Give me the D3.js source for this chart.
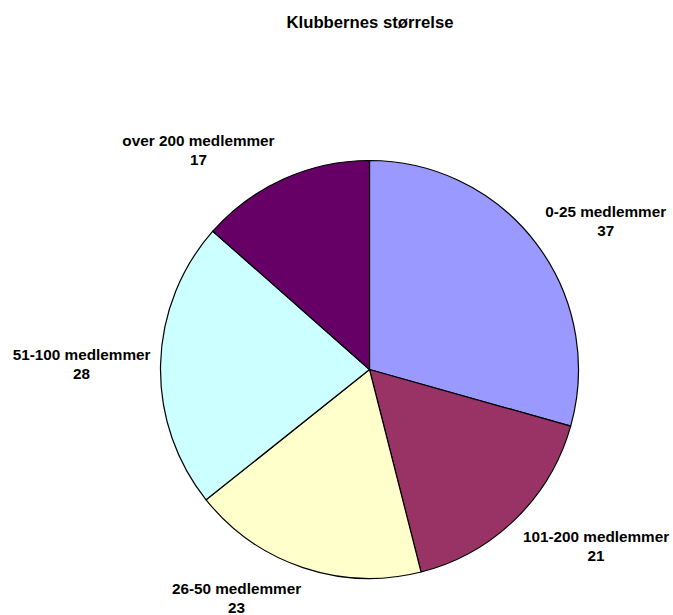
<!DOCTYPE html>
<html>
<head>
<meta charset="utf-8">
<script src="https://cdn.jsdelivr.net/npm/d3@7"></script>
<style>
  html, body { margin: 0; padding: 0; background: #ffffff; }
  svg { display: block; }
  text { font-family: "Liberation Sans", Arial, sans-serif; font-weight: bold; fill: #000; }
</style>
</head>
<body>
<svg id="chart" width="673" height="615"></svg>
<script>
// ---- data ----
const title = "Klubbernes størrelse";
const categories = ["0-25 medlemmer", "101-200 medlemmer", "26-50 medlemmer", "51-100 medlemmer", "over 200 medlemmer"];
const values = [37, 21, 23, 28, 17];
const colors = ["#9999FF", "#993366", "#FFFFCC", "#CCFFFF", "#660066"];

// ---- layout (not data) ----
const W = 673, H = 615;
const cx = 369.5, cy = 369.5, R = 209;
const labelR = 270;
const labelNudge = {
  "0-25 medlemmer": [21, 20],
  "101-200 medlemmer": [38, -11],
  "26-50 medlemmer": [-47, -22],
  "51-100 medlemmer": [-18, 7],
  "over 200 medlemmer": [-60, 32]
};

const svg = d3.select("#chart");

svg.append("text")
  .attr("x", 370).attr("y", 28.3)
  .attr("text-anchor", "middle")
  .style("font-size", "16.7px")
  .text(title);

const data = categories.map((c, i) => ({ cat: c, value: values[i], color: colors[i] }));

const pie = d3.pie().sort(null).value(d => d.value).startAngle(0).endAngle(2 * Math.PI);
const arcs = pie(data);

const arc = d3.arc().innerRadius(0).outerRadius(R);
const labelArc = d3.arc().innerRadius(labelR).outerRadius(labelR);

const g = svg.append("g").attr("transform", `translate(${cx},${cy})`);

g.selectAll("path.slice")
  .data(arcs)
  .join("path")
  .attr("class", "slice")
  .attr("d", arc)
  .attr("fill", d => d.data.color)
  .attr("stroke", "#000")
  .attr("stroke-width", 1.2)
  .attr("stroke-linejoin", "round");

const labels = g.selectAll("g.lbl")
  .data(arcs)
  .join("g")
  .attr("class", "lbl")
  .attr("transform", d => {
    const [x, y] = labelArc.centroid(d);
    const n = labelNudge[d.data.cat] || [0, 0];
    return `translate(${x + n[0]},${y + n[1]})`;
  });

labels.append("text")
  .attr("text-anchor", "middle")
  .attr("y", -9.5)
  .style("font-size", "15.3px")
  .text(d => d.data.cat);

labels.append("text")
  .attr("text-anchor", "middle")
  .attr("y", 9.5)
  .style("font-size", "15.3px")
  .text(d => d.data.value);
</script>
</body>
</html>
